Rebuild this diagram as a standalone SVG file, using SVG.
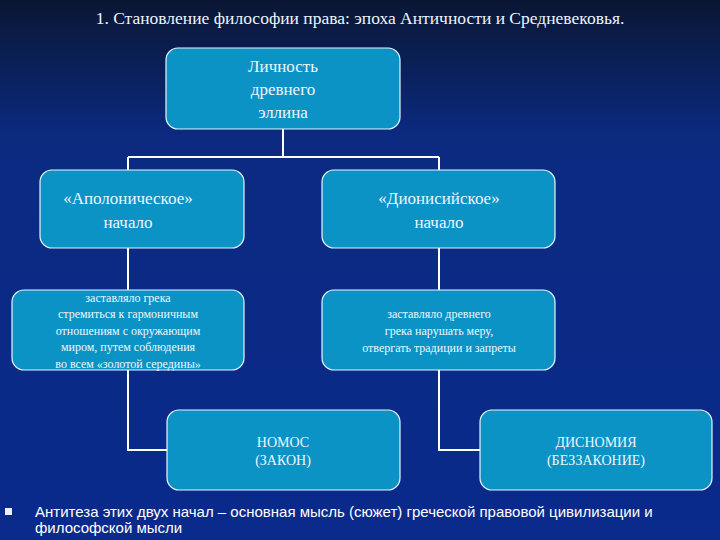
<svg xmlns="http://www.w3.org/2000/svg" width="720" height="540" viewBox="0 0 720 540">
<defs>
<linearGradient id="bg" x1="0" y1="0" x2="0" y2="1">
<stop offset="0" stop-color="#0a1633"/><stop offset="0.25" stop-color="#0b2a80"/><stop offset="1" stop-color="#0a2a8c"/>
</linearGradient>
<style>
.box{fill:#0b93c6;stroke:#e8f4ff;stroke-width:1.2}
.t{font-family:"Liberation Serif",serif;fill:#eef6ff;text-anchor:middle}
.c{stroke:#fff;stroke-width:2;fill:none}
</style>
</defs>
<rect width="720" height="540" fill="url(#bg)"/>
<text x="360" y="24" class="t" font-size="17.5">1. Становление философии права: эпоха Античности и Средневековья.</text>
<g id="connectors">
<path class="c" d="M283 129V157M128 157H439M128 157V170M439 157V170M128 248V290M439 248V290M128 370V450H167M439 370V450H480"/>
</g>
<g id="n1"><rect class="box" x="166" y="48" width="234" height="81" rx="12"/>
<text class="t" font-size="17"><tspan x="283" y="72">Личность</tspan><tspan x="283" y="95">древнего</tspan><tspan x="283" y="118">эллина</tspan></text></g>
<g id="n2"><rect class="box" x="40" y="170" width="204" height="78" rx="12"/>
<text class="t" font-size="17"><tspan x="128" y="204">«Аполоническое»</tspan><tspan x="128" y="228">начало</tspan></text></g>
<g id="n3"><rect class="box" x="322" y="170" width="233" height="78" rx="12"/>
<text class="t" font-size="17"><tspan x="439" y="204">«Дионисийское»</tspan><tspan x="439" y="228">начало</tspan></text></g>
<g id="n4"><rect class="box" x="12" y="290" width="232" height="80" rx="12"/>
<text class="t" font-size="12"><tspan x="128" y="302">заставляло грека</tspan><tspan x="128" y="318">стремиться к гармоничным</tspan><tspan x="128" y="335">отношениям с окружающим</tspan><tspan x="128" y="351">миром, путем соблюдения</tspan><tspan x="128" y="368">во всем «золотой середины»</tspan></text></g>
<g id="n5"><rect class="box" x="322" y="290" width="233" height="80" rx="12"/>
<text class="t" font-size="12"><tspan x="439" y="318">заставляло древнего</tspan><tspan x="439" y="335">грека нарушать меру,</tspan><tspan x="439" y="352">отвергать традиции и запреты</tspan></text></g>
<g id="n6"><rect class="box" x="167" y="410" width="233" height="80" rx="12"/>
<text class="t" font-size="14"><tspan x="283" y="447">НОМОС</tspan><tspan x="283" y="465">(ЗАКОН)</tspan></text></g>
<g id="n7"><rect class="box" x="480" y="410" width="232" height="80" rx="12"/>
<text class="t" font-size="14"><tspan x="596" y="447">ДИСНОМИЯ</tspan><tspan x="596" y="465">(БЕЗЗАКОНИЕ)</tspan></text></g>
<rect x="5" y="508" width="7" height="7" fill="#eef"/>
<text font-family="Liberation Sans,sans-serif" font-size="15" fill="#fff"><tspan x="35" y="517">Антитеза этих двух начал – основная мысль (сюжет) греческой правовой цивилизации и</tspan><tspan x="35" y="533">философской мысли</tspan></text>
</svg>
